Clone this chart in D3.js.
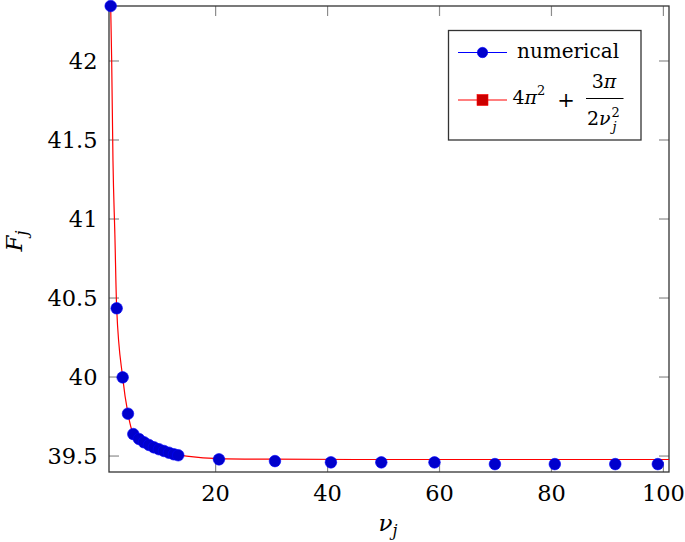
<!DOCTYPE html>
<html>
<head>
<meta charset="utf-8">
<script src="https://cdn.jsdelivr.net/npm/d3@7"></script>
<style>
  body { margin: 0; background: #fff; }
</style>
</head>
<body>
<div class="canvas"></div>
<script>
// numerical values
const nu = [1.25, 2.32, 3.39, 4.34, 5.29, 6.30, 7.20, 8.09, 8.98, 9.88, 10.77, 11.66, 12.55, 13.32,
            20.6, 30.6, 40.6, 49.6, 59.1, 69.9, 80.6, 91.4, 99.0];
const F = [42.348, 40.435, 39.998, 39.768, 39.639, 39.608, 39.587, 39.570, 39.555, 39.543, 39.532, 39.521, 39.511, 39.505,
           39.479, 39.468, 39.460, 39.460, 39.460, 39.449, 39.449, 39.449, 39.449];

// asymptotic curve 4pi^2 + 3pi/(2nu^2)
const curveNu = [1.25, 1.43, 1.66, 2.0, 2.32, 3.39, 4.34, 5.29, 6.3, 8.1, 10.0, 12.0, 14.8, 20.6, 30, 45, 70, 101];
const curveF = [42.348, 42.0, 41.37, 40.9, 40.435, 39.998, 39.768, 39.639, 39.605, 39.565, 39.54, 39.515, 39.50, 39.484, 39.480, 39.478, 39.478, 39.478];

const xTicks = [20, 40, 60, 80, 100];
const yTicks = [39.5, 40, 40.5, 41, 41.5, 42];

const dims = {width: 685, height: 542};
const plot = {left: 109, right: 669, top: 6, bottom: 472};
const serif = '"DejaVu Serif", serif';

const svg = d3.select('.canvas')
  .append('svg')
  .attr('width', dims.width)
  .attr('height', dims.height)
  .style('font-family', serif);

const x = d3.scaleLinear().domain([0.95, 101]).range([plot.left, plot.right]);
const y = d3.scaleLinear().domain([39.399, 42.348]).range([plot.bottom, plot.top]);

const tickLen = 10;
const tickColor = '#8c8c8c';
const frameColor = '#333';

// ticks on all four sides (pointing inwards)
const ticks = svg.append('g')
  .attr('stroke', tickColor)
  .attr('stroke-width', 1.2);

xTicks.forEach(t => {
  ticks.append('line').attr('x1', x(t)).attr('x2', x(t)).attr('y1', plot.bottom).attr('y2', plot.bottom - tickLen);
  ticks.append('line').attr('x1', x(t)).attr('x2', x(t)).attr('y1', plot.top).attr('y2', plot.top + tickLen);
});
yTicks.forEach(t => {
  ticks.append('line').attr('x1', plot.left).attr('x2', plot.left + tickLen).attr('y1', y(t)).attr('y2', y(t));
  ticks.append('line').attr('x1', plot.right).attr('x2', plot.right - tickLen).attr('y1', y(t)).attr('y2', y(t));
});

// frame
svg.append('rect')
  .attr('x', plot.left)
  .attr('y', plot.top)
  .attr('width', plot.right - plot.left)
  .attr('height', plot.bottom - plot.top)
  .attr('fill', 'none')
  .attr('stroke', frameColor)
  .attr('stroke-width', 1.3);

// tick labels
svg.append('g')
  .selectAll('text')
  .data(xTicks)
  .enter()
  .append('text')
  .attr('x', d => x(d))
  .attr('y', 501)
  .attr('text-anchor', 'middle')
  .attr('font-size', 22.5)
  .text(d => d);

svg.append('g')
  .selectAll('text')
  .data(yTicks)
  .enter()
  .append('text')
  .attr('x', 97.5)
  .attr('y', d => y(d) + 8.3)
  .attr('text-anchor', 'end')
  .attr('font-size', 22.5)
  .text(d => d);

// axis labels
const xl = svg.append('text')
  .attr('x', 388)
  .attr('y', 530.5)
  .attr('text-anchor', 'middle')
  .attr('font-size', 23);
xl.append('tspan').attr('font-style', 'italic').text('ν');
xl.append('tspan').attr('font-style', 'italic').attr('font-size', 16).attr('dy', 5).text('j');

const yl = svg.append('text')
  .attr('transform', 'translate(22, 241) rotate(-90)')
  .attr('text-anchor', 'middle')
  .attr('font-size', 23);
yl.append('tspan').attr('font-style', 'italic').text('F');
yl.append('tspan').attr('font-style', 'italic').attr('font-size', 16).attr('dy', 5).text('j');

// red curve
const curveData = curveNu.map((d, i) => ({nu: d, F: curveF[i]}));
svg.append('path')
  .datum(curveData)
  .attr('fill', 'none')
  .attr('stroke', '#ff0000')
  .attr('stroke-width', 1.2)
  .attr('d', d3.line()
    .x(d => x(d.nu))
    .y(d => y(d.F))
    .curve(d3.curveMonotoneX)
  );

// numerical points
const points = nu.map((d, i) => ({nu: d, F: F[i]}));
svg.append('g')
  .selectAll('circle')
  .data(points)
  .enter()
  .append('circle')
  .attr('cx', d => x(d.nu))
  .attr('cy', d => y(d.F))
  .attr('r', 5.8)
  .attr('fill', '#0000cc')
  .attr('stroke', '#0000ff')
  .attr('stroke-width', 0.6);

// legend
const legend = svg.append('g');

legend.append('rect')
  .attr('x', 448.5)
  .attr('y', 30.5)
  .attr('width', 192.5)
  .attr('height', 109.5)
  .attr('fill', '#fff')
  .attr('stroke', frameColor)
  .attr('stroke-width', 1.3);

legend.append('line')
  .attr('x1', 458).attr('x2', 507).attr('y1', 52.5).attr('y2', 52.5)
  .attr('stroke', '#0000ff').attr('stroke-width', 1.2);
legend.append('circle')
  .attr('cx', 482.5).attr('cy', 52.5).attr('r', 5.2)
  .attr('fill', '#0000cc').attr('stroke', '#0000ff').attr('stroke-width', 0.6);
legend.append('text')
  .attr('x', 517)
  .attr('y', 58)
  .attr('font-size', 20)
  .text('numerical');

legend.append('line')
  .attr('x1', 458).attr('x2', 507).attr('y1', 100).attr('y2', 100)
  .attr('stroke', '#ff0000').attr('stroke-width', 1.2);
legend.append('rect')
  .attr('x', 477).attr('y', 94.5).attr('width', 11).attr('height', 11)
  .attr('fill', '#cc0000').attr('stroke', '#ff0000').attr('stroke-width', 0.6);

// 4pi^2 + 3pi / (2 nu_j^2)
const f1 = legend.append('text')
  .attr('x', 512.5)
  .attr('y', 104)
  .attr('font-size', 19);
f1.append('tspan').text('4');
f1.append('tspan').attr('font-style', 'italic').text('π');
f1.append('tspan').attr('font-size', 13).attr('dy', -9).text('2');

legend.append('text')
  .attr('x', 566)
  .attr('y', 107)
  .attr('text-anchor', 'middle')
  .attr('font-size', 21)
  .text('+');

legend.append('line')
  .attr('x1', 586).attr('x2', 623.5).attr('y1', 98.5).attr('y2', 98.5)
  .attr('stroke', '#000').attr('stroke-width', 1.1);

const num = legend.append('text')
  .attr('x', 604)
  .attr('y', 88)
  .attr('text-anchor', 'middle')
  .attr('font-size', 19);
num.append('tspan').text('3');
num.append('tspan').attr('font-style', 'italic').text('π');

const den = legend.append('text')
  .attr('x', 587)
  .attr('y', 125)
  .attr('font-size', 19);
den.append('tspan').text('2');
den.append('tspan').attr('font-style', 'italic').text('ν');

legend.append('text')
  .attr('x', 611.5).attr('y', 116.5)
  .attr('font-size', 13)
  .text('2');
legend.append('text')
  .attr('x', 612.5).attr('y', 131)
  .attr('font-size', 13)
  .attr('font-style', 'italic')
  .text('j');
</script>
</body>
</html>
